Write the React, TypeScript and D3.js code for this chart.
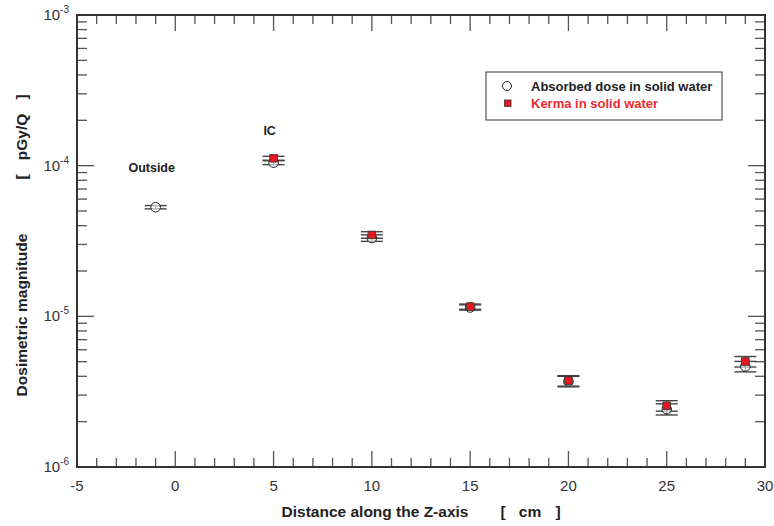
import React, { useEffect, useRef } from 'react';
import * as d3 from 'd3';

// distance along Z (cm)
const zAbsorbed = [-1, 5, 10, 15, 20, 25, 29];
const absorbedDose = [5.3e-5, 1.047e-4, 3.31e-5, 1.145e-5, 3.7e-6, 2.42e-6, 4.65e-6];
const absorbedErr = [0.025, 0.03, 0.05, 0.04, 0.08, 0.085, 0.08];

const zKerma = [5, 10, 15, 20, 25, 29];
const kerma = [1.12e-4, 3.47e-5, 1.16e-5, 3.74e-6, 2.55e-6, 5.01e-6];
const kermaErr = [0.03, 0.05, 0.04, 0.08, 0.08, 0.08];

const xTicks = [-5, 0, 5, 10, 15, 20, 25, 30];
const yDecades = [-6, -5, -4, -3];

const annotations = [
  { label: 'Outside', z: -1.2, v: 9.1e-5 },
  { label: 'IC', z: 4.8, v: 1.6e-4 },
];

const W = 774;
const H = 526;
const FONT = '"Liberation Sans", Arial, sans-serif';

const App = () => {
  const ref = useRef<SVGSVGElement>(null);

  useEffect(() => {
    const svg = d3.select(ref.current);
    svg.selectAll('*').remove();

    const left = 77;
    const right = 765;
    const top = 15;
    const bottom = 467;

    const x = d3.scaleLinear().domain([-5, 30]).range([left, right]);
    const y = d3.scaleLog().domain([1e-6, 1e-3]).range([bottom, top]);

    const axisColor = '#333';
    const tickColor = '#555';

    // minor / major ticks on x (bottom and top)
    const g = svg.append('g');
    d3.range(-5, 31, 1).forEach((t) => {
      const major = t % 5 === 0;
      const len = major ? 16 : 9;
      g.append('line')
        .attr('x1', x(t)).attr('x2', x(t))
        .attr('y1', bottom).attr('y2', bottom - len)
        .attr('stroke', tickColor).attr('stroke-width', 1.3);
      g.append('line')
        .attr('x1', x(t)).attr('x2', x(t))
        .attr('y1', top).attr('y2', top + len)
        .attr('stroke', tickColor).attr('stroke-width', 1.3);
    });

    // y ticks (left and right)
    yDecades.forEach((d, i) => {
      const steps = i < yDecades.length - 1 ? d3.range(1, 10) : [1];
      steps.forEach((m) => {
        const v = m * Math.pow(10, d);
        const len = m === 1 ? 17 : 10;
        g.append('line')
          .attr('x1', left).attr('x2', left + len)
          .attr('y1', y(v)).attr('y2', y(v))
          .attr('stroke', tickColor).attr('stroke-width', 1.3);
        g.append('line')
          .attr('x1', right).attr('x2', right - len)
          .attr('y1', y(v)).attr('y2', y(v))
          .attr('stroke', tickColor).attr('stroke-width', 1.3);
      });
    });

    // frame
    svg.append('rect')
      .attr('x', left).attr('y', top)
      .attr('width', right - left).attr('height', bottom - top)
      .attr('fill', 'none').attr('stroke', axisColor).attr('stroke-width', 2);

    // x tick labels
    svg.append('g').selectAll('text').data(xTicks).enter().append('text')
      .attr('x', (d) => x(d))
      .attr('y', bottom + 24)
      .attr('text-anchor', 'middle')
      .attr('font-family', FONT).attr('font-size', 15).attr('fill', '#333')
      .text((d) => d);

    // y tick labels
    yDecades.forEach((d) => {
      const t = svg.append('text')
        .attr('x', left - 8)
        .attr('y', y(Math.pow(10, d)) + 5)
        .attr('text-anchor', 'end')
        .attr('font-family', FONT).attr('font-size', 15).attr('fill', '#333');
      t.append('tspan').text('10');
      t.append('tspan').attr('font-size', 10).attr('dy', -7).text(String(d));
    });

    // axis titles
    const titleStyle = (s: d3.Selection<SVGTextElement, unknown, null, undefined>) =>
      s.attr('font-family', FONT).attr('font-size', 15.5).attr('font-weight', 'bold')
        .attr('fill', '#222').attr('text-anchor', 'middle');

    [
      { t: 'Distance along the Z-axis', c: 375 },
      { t: '[', c: 503 },
      { t: 'cm', c: 530 },
      { t: ']', c: 558 },
    ].forEach((p) => {
      svg.append('text').attr('x', p.c).attr('y', 517).call(titleStyle).text(p.t);
    });

    [
      { t: 'Dosimetric magnitude', c: 315 },
      { t: '[', c: 177 },
      { t: 'pGy/Q', c: 137 },
      { t: ']', c: 97 },
    ].forEach((p) => {
      svg.append('text')
        .attr('transform', `translate(27, ${p.c}) rotate(-90)`)
        .call(titleStyle).text(p.t);
    });

    // error bars
    const drawErr = (zs: number[], vs: number[], es: number[]) => {
      zs.forEach((z, i) => {
        const cx = x(z);
        const lo = y(vs[i] * (1 - es[i]));
        const hi = y(vs[i] * (1 + es[i]));
        const eg = svg.append('g').attr('stroke', '#444').attr('stroke-width', 1.4);
        eg.append('line').attr('x1', cx).attr('x2', cx).attr('y1', lo).attr('y2', hi);
        [lo, hi].forEach((yy) => {
          eg.append('line').attr('x1', cx - 11).attr('x2', cx + 11).attr('y1', yy).attr('y2', yy);
        });
      });
    };
    drawErr(zAbsorbed, absorbedDose, absorbedErr);
    drawErr(zKerma, kerma, kermaErr);

    // absorbed dose: open circles
    svg.append('g').selectAll('circle').data(zAbsorbed).enter().append('circle')
      .attr('cx', (d) => x(d))
      .attr('cy', (d, i) => y(absorbedDose[i]))
      .attr('r', 4.8)
      .attr('fill', 'white').attr('fill-opacity', 0.6)
      .attr('stroke', '#222').attr('stroke-width', 1);

    // kerma: red squares
    svg.append('g').selectAll('rect').data(zKerma).enter().append('rect')
      .attr('x', (d) => x(d) - 3.8)
      .attr('y', (d, i) => y(kerma[i]) - 3.8)
      .attr('width', 7.6).attr('height', 7.6)
      .attr('fill', '#e8161e')
      .attr('stroke', '#333').attr('stroke-width', 0.8);

    // annotations
    annotations.forEach((a) => {
      svg.append('text')
        .attr('x', x(a.z)).attr('y', y(a.v))
        .attr('text-anchor', 'middle')
        .attr('font-family', FONT).attr('font-size', 12.5).attr('font-weight', 'bold').attr('fill', '#222')
        .text(a.label);
    });

    // legend
    const lg = svg.append('g');
    lg.append('rect')
      .attr('x', 486).attr('y', 72).attr('width', 236).attr('height', 48)
      .attr('fill', 'white').attr('stroke', '#333').attr('stroke-width', 1);
    lg.append('circle').attr('cx', 507).attr('cy', 86).attr('r', 4.5)
      .attr('fill', 'white').attr('stroke', '#222').attr('stroke-width', 1);
    lg.append('rect').attr('x', 504.5).attr('y', 100).attr('width', 6.5).attr('height', 6.5)
      .attr('fill', '#e8161e').attr('stroke', '#333').attr('stroke-width', 0.8);
    lg.append('text').attr('x', 531).attr('y', 91)
      .attr('font-family', FONT).attr('font-size', 13).attr('font-weight', 'bold').attr('fill', '#222')
      .text('Absorbed dose in solid water');
    lg.append('text').attr('x', 531).attr('y', 108)
      .attr('font-family', FONT).attr('font-size', 13).attr('font-weight', 'bold').attr('fill', '#ee2a30')
      .text('Kerma in solid water');
  }, []);

  return (
    <svg
      ref={ref}
      width={W}
      height={H}
      style={{ position: 'absolute', left: 0, top: 0, background: 'white' }}
    />
  );
};

export default App;
